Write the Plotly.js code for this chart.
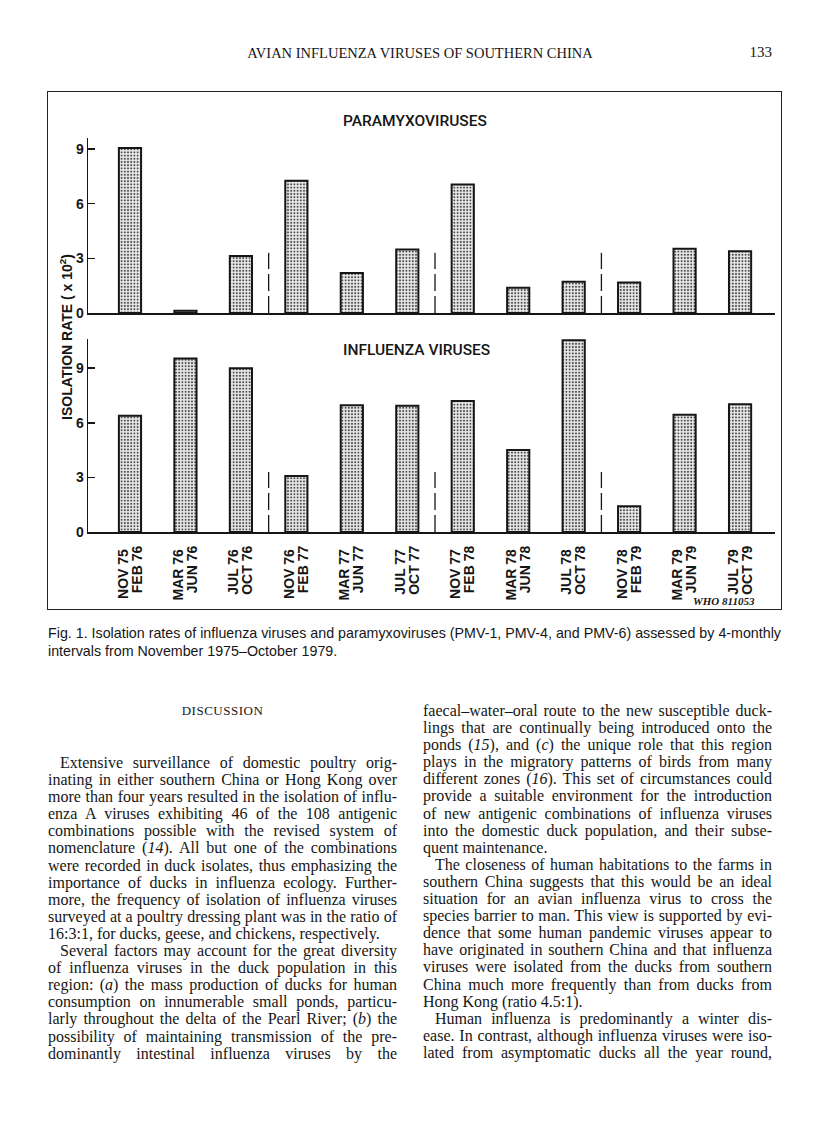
<!DOCTYPE html>
<html>
<head>
<meta charset="utf-8">
<script src="https://cdn.plot.ly/plotly-3.0.1.min.js"></script>
<style>
  body { margin: 0; background: #fff; }
  #page { position: relative; width: 816px; height: 1134px; overflow: hidden;
          font-family: "Liberation Serif", "Times New Roman", serif; color: #161616; }
  #runhead { position: absolute; left: 0; width: 840px; top: 45px; text-align: center;
             font-size: 14.5px; line-height: 16px; }
  #folio { position: absolute; left: 740px; width: 32px; top: 44px; text-align: right;
           font-size: 15px; line-height: 16px; }
  #fig { position: absolute; left: 48px; top: 92px; width: 733px; height: 517px; }
  #frame { position: absolute; left: 47px; top: 91px; width: 735px; height: 519px;
           border: 1.5px solid #222; box-sizing: border-box; pointer-events: none; }
  #caption { position: absolute; left: 48px; top: 624px; white-space: nowrap;
             transform-origin: 0 0;
             font-family: "Liberation Sans", Arial, sans-serif;
             font-size: 15px; line-height: 18px; }
  #caption .l1 { display: inline-block; }
  #disc { position: absolute; left: 48px; width: 349px; top: 703px; text-align: center;
          font-size: 13px; letter-spacing: 0.5px; line-height: 16px; }
  .col { position: absolute; width: 349px; font-size: 16px; line-height: 17.1px; }
  .col div { height: 17.1px; text-align: justify; text-align-last: justify; }
  .col div.end { text-align-last: left; }
  .col div.ind { text-indent: 12px; }
</style>
</head>
<body>
<div id="page">
  <div id="runhead">AVIAN INFLUENZA VIRUSES OF SOUTHERN CHINA</div>
  <div id="folio">133</div>

  <div id="fig"></div>
  <div id="frame"></div>

  <div id="caption">
    <div class="l1">Fig. 1. Isolation rates of influenza viruses and paramyxoviruses (PMV-1, PMV-4, and PMV-6) assessed by 4-monthly</div>
    <div>intervals from November 1975&ndash;October 1979.</div>
  </div>

  <div id="disc">DISCUSSION</div>

  <div class="col" style="left:48px; top:754px;">
    <div class="ind">Extensive surveillance of domestic poultry orig-</div>
    <div>inating in either southern China or Hong Kong over</div>
    <div>more than four years resulted in the isolation of influ-</div>
    <div>enza A viruses exhibiting 46 of the 108 antigenic</div>
    <div>combinations possible with the revised system of</div>
    <div>nomenclature (<i>14</i>). All but one of the combinations</div>
    <div>were recorded in duck isolates, thus emphasizing the</div>
    <div>importance of ducks in influenza ecology. Further-</div>
    <div>more, the frequency of isolation of influenza viruses</div>
    <div>surveyed at a poultry dressing plant was in the ratio of</div>
    <div class="end">16:3:1, for ducks, geese, and chickens, respectively.</div>
    <div class="ind">Several factors may account for the great diversity</div>
    <div>of influenza viruses in the duck population in this</div>
    <div>region: (<i>a</i>) the mass production of ducks for human</div>
    <div>consumption on innumerable small ponds, particu-</div>
    <div>larly throughout the delta of the Pearl River; (<i>b</i>) the</div>
    <div>possibility of maintaining transmission of the pre-</div>
    <div>dominantly intestinal influenza viruses by the</div>
  </div>

  <div class="col" style="left:423px; top:702px;">
    <div>faecal&ndash;water&ndash;oral route to the new susceptible duck-</div>
    <div>lings that are continually being introduced onto the</div>
    <div>ponds (<i>15</i>), and (<i>c</i>) the unique role that this region</div>
    <div>plays in the migratory patterns of birds from many</div>
    <div>different zones (<i>16</i>). This set of circumstances could</div>
    <div>provide a suitable environment for the introduction</div>
    <div>of new antigenic combinations of influenza viruses</div>
    <div>into the domestic duck population, and their subse-</div>
    <div class="end">quent maintenance.</div>
    <div class="ind">The closeness of human habitations to the farms in</div>
    <div>southern China suggests that this would be an ideal</div>
    <div>situation for an avian influenza virus to cross the</div>
    <div>species barrier to man. This view is supported by evi-</div>
    <div>dence that some human pandemic viruses appear to</div>
    <div>have originated in southern China and that influenza</div>
    <div>viruses were isolated from the ducks from southern</div>
    <div>China much more frequently than from ducks from</div>
    <div class="end">Hong Kong (ratio 4.5:1).</div>
    <div class="ind">Human influenza is predominantly a winter dis-</div>
    <div>ease. In contrast, although influenza viruses were iso-</div>
    <div>lated from asymptomatic ducks all the year round,</div>
  </div>
</div>

<script>
// 4-monthly intervals, Nov 1975 - Oct 1979
const periodStart = ["NOV 75", "MAR 76", "JUL 76", "NOV 76", "MAR 77", "JUL 77",
                     "NOV 77", "MAR 78", "JUL 78", "NOV 78", "MAR 79", "JUL 79"];
const periodEnd = ["FEB 76", "JUN 76", "OCT 76", "FEB 77", "JUN 77", "OCT 77",
                   "FEB 78", "JUN 78", "OCT 78", "FEB 79", "JUN 79", "OCT 79"];

// isolation rate (x 10^2)
const paramyxo = [9.05, 0.13, 3.13, 7.25, 2.20, 3.48, 7.05, 1.38, 1.71, 1.68, 3.52, 3.39];
const influenza = [6.38, 9.53, 9.00, 3.07, 6.96, 6.93, 7.20, 4.51, 10.53, 1.42, 6.44, 7.02];

const yTicks = [0, 3, 6, 9];

const idx = periodStart.map((p, i) => i);
// a dashed mark between years, before each new November
const yearBreaks = idx.filter(i => i > 0 && periodStart[i].startsWith("NOV")).map(i => i - 0.5);

const ink = "#161616";
const xRange = [-0.757, 11.63];

const barStyle = {
  color: "#e4e4e4",
  line: { color: ink, width: 2 },
  pattern: { shape: ".", fillmode: "replace", fgcolor: "#4a4a4a", bgcolor: "#ebebeb", size: 3.2, solidity: 0.32 }
};

const traces = [
  { type: "bar", x: idx, y: influenza, xaxis: "x", yaxis: "y", width: 0.4, marker: barStyle, hoverinfo: "skip" },
  { type: "bar", x: idx, y: paramyxo, xaxis: "x2", yaxis: "y2", width: 0.4, marker: barStyle, hoverinfo: "skip" },
  { type: "scatter", mode: "markers", x: idx, y: idx.map(() => 0), xaxis: "x3", yaxis: "y",
    marker: { opacity: 0 }, hoverinfo: "skip" }
];

const tickFont = { family: "Liberation Sans, Arial, sans-serif", size: 14, weight: 700, color: ink };

const shapes = [];
yearBreaks.forEach(b => {
  ["y", "y2"].forEach(ax => {
    shapes.push({ type: "line", xref: "x", yref: ax, x0: b, x1: b, y0: 0, y1: 3.3,
                  line: { color: ink, width: 1.3, dash: "17px,5px" } });
  });
});

const yBase = {
  tickmode: "array", tickvals: yTicks, ticks: "inside", ticklen: 7, tickwidth: 1.5, tickcolor: ink,
  showline: true, linecolor: ink, linewidth: 1.5, showgrid: false, zeroline: false,
  tickfont: tickFont, fixedrange: true
};

const layout = {
  width: 733, height: 517,
  margin: { l: 40, r: 6, t: 46, b: 77 },
  paper_bgcolor: "rgba(0,0,0,0)", plot_bgcolor: "rgba(0,0,0,0)",
  showlegend: false,
  bargap: 0,
  xaxis: {
    anchor: "y", range: xRange, showline: true, linecolor: ink, linewidth: 1.5,
    tickmode: "array", tickvals: idx, ticktext: periodStart, tickangle: -90,
    ticks: "", ticklabelshift: -7, ticklabelstandoff: 10,
    showgrid: false, zeroline: false, tickfont: tickFont
  },
  xaxis3: {
    overlaying: "x", anchor: "y", side: "bottom", range: xRange, showline: false,
    tickmode: "array", tickvals: idx, ticktext: periodEnd, tickangle: -90,
    ticks: "", ticklabelshift: 7, ticklabelstandoff: 10,
    showgrid: false, zeroline: false, tickfont: tickFont
  },
  xaxis2: {
    anchor: "y2", range: xRange, showline: true, linecolor: ink, linewidth: 1.5,
    showticklabels: false, ticks: "", showgrid: false, zeroline: false
  },
  yaxis: Object.assign({}, yBase, { domain: [0, 0.4898], range: [0, 10.6] }),
  yaxis2: Object.assign({}, yBase, { domain: [0.5558, 1], range: [0, 9.6], anchor: "x2" }),
  shapes: shapes,
  annotations: [
    { text: "PARAMYXOVIRUSES", xref: "paper", yref: "paper", x: 0.476, y: 1.043,
      xanchor: "center", yanchor: "middle", showarrow: false,
      font: { family: "Roboto, Liberation Sans, sans-serif", size: 15.5, weight: 500, color: ink } },
    { text: "INFLUENZA VIRUSES", xref: "paper", yref: "paper", x: 0.478, y: 0.462,
      xanchor: "center", yanchor: "middle", showarrow: false,
      font: { family: "Roboto, Liberation Sans, sans-serif", size: 15.5, weight: 500, color: ink } },
    { text: "ISOLATION RATE ( x 10<sup>2</sup>)", xref: "paper", yref: "paper", x: -0.032, y: 0.495,
      xanchor: "center", yanchor: "middle", textangle: -90, showarrow: false,
      font: { family: "Liberation Sans, Arial, sans-serif", size: 14, weight: 700, color: ink } },
    { text: "WHO 811053", xref: "paper", yref: "paper", x: 0.974, y: -0.175,
      xanchor: "right", yanchor: "middle", showarrow: false,
      font: { family: "Liberation Serif, serif", size: 11, weight: 700, style: "italic", color: ink } }
  ]
};

Plotly.newPlot("fig", traces, layout, { staticPlot: true, displayModeBar: false });

// fit the caption's first line to the width of the figure frame, as in the print
const cap = document.getElementById("caption");
const firstLine = cap.querySelector(".l1");
cap.style.transform = "scaleX(" + (733 / firstLine.getBoundingClientRect().width) + ")";
</script>
</body>
</html>
